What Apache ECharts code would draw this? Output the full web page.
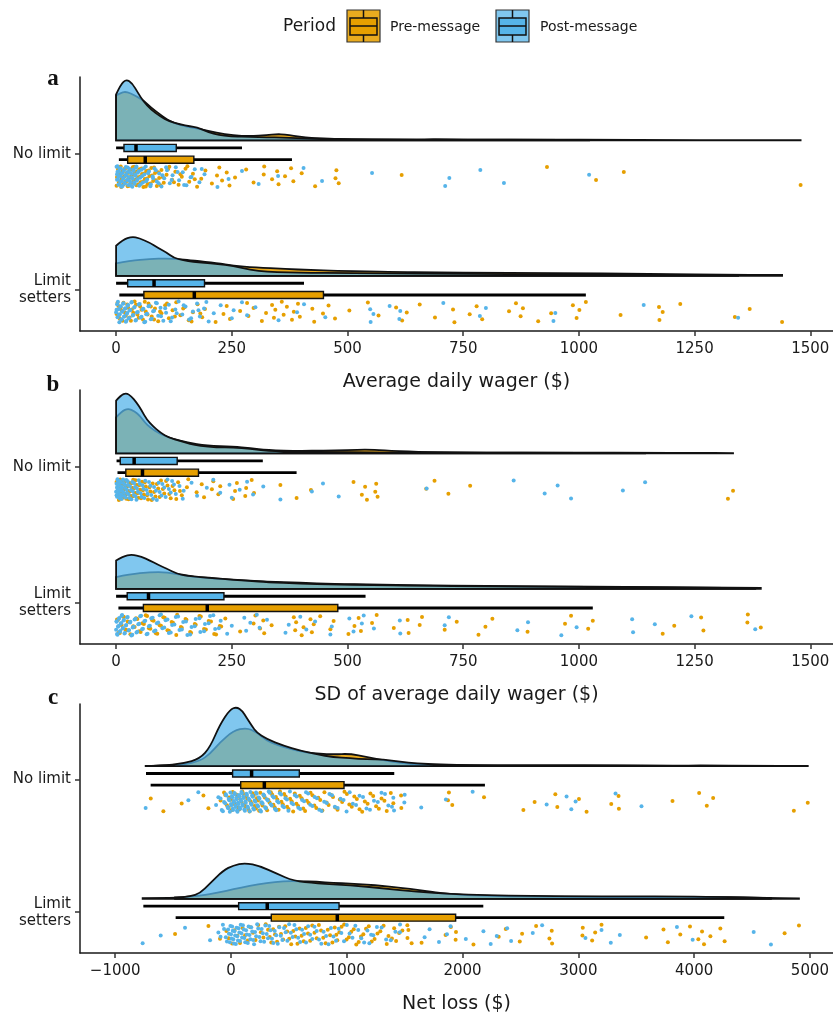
<!DOCTYPE html>
<html>
<head>
<meta charset="utf-8">
<script src="https://cdn.jsdelivr.net/npm/echarts@6/dist/echarts.min.js"></script>
<style>
html, body { margin: 0; padding: 0; background: #fff; }
#main { width: 833px; height: 1015px; }
</style>
</head>
<body>
<div id="main"></div>
<script>
// groups and axes
var groups = ['No limit', 'Limit setters'];
var panelLetters = ['a', 'b', 'c'];
var axisTitles = ['Average daily wager ($)', 'SD of average daily wager ($)', 'Net loss ($)'];
var ticksWager = [0, 250, 500, 750, 1000, 1250, 1500];
var ticksLoss = [-1000, 0, 1000, 2000, 3000, 4000, 5000];

// boxplots: [lower whisker, q1, median, q3, upper whisker]
var boxA_nl_pre = [6, 25, 63, 168, 380];
var boxA_nl_post = [0, 17, 43, 130, 272];
var boxA_ls_pre = [7, 60, 169, 448, 1015];
var boxA_ls_post = [0, 25, 82, 191, 406];
var boxB_nl_pre = [3, 21, 57, 178, 390];
var boxB_nl_post = [1, 9, 39, 132, 317];
var boxB_ls_pre = [5, 59, 197, 479, 1030];
var boxB_ls_post = [0, 24, 70, 233, 539];
var boxC_nl_pre = [-694, 84, 288, 976, 2193];
var boxC_nl_post = [-734, 14, 178, 590, 1410];
var boxC_ls_pre = [-478, 348, 918, 1940, 4260];
var boxC_ls_post = [-757, 66, 313, 933, 2179];

// density curves: [x, density height]
var densA_nl_pre = [[0,45],[12,48],[23,48.6],[40,45],[59,40],[75,33],[95,26],[110,21],[124,17.6],[153,13.6],[181,11.3],[217,7.6],[253,5],[290,4.3],[326,5.3],[347,6.3],[365,6],[383,4.6],[410,3],[434,2],[506,1],[600,0.8],[700,1],[800,0.7],[950,0.8],[1050,0.6],[1200,0.3],[1350,0.3],[1479,0.3]];
var densA_nl_post = [[0,46],[10,56],[22,61],[35,57],[48,47],[59,39],[75,31],[95,24],[115,19],[138,16],[160,14],[175,13],[190,10],[210,6.6],[235,4.5],[253,4],[290,3.5],[326,3.3],[360,2.8],[420,2],[470,1.5],[550,1.2],[650,0.9],[720,1],[800,0.8],[900,0.6],[1022,0.3]];
var densA_ls_pre = [[0,12.4],[30,15],[73,16.7],[110,17.4],[140,16.5],[167,15],[218,12.7],[253,10],[300,8.4],[367,6.7],[420,5.8],[476,5],[550,4.4],[588,4],[700,3.5],[800,3],[900,2.8],[1000,2.6],[1100,2],[1200,1.6],[1300,1.2],[1439,0.8]];
var densA_ls_post = [[0,30],[15,36],[34,39],[50,37.5],[73,33],[90,28],[110,23],[124,18],[145,15.5],[167,14],[190,13],[218,11.7],[253,10],[290,6],[326,4],[370,3.5],[420,3],[480,2.8],[550,2.5],[620,2.2],[700,2],[800,1.8],[900,1.6],[1000,1.3],[1150,1],[1250,0.8],[1344,0.5]];
var densB_nl_pre = [[0,36],[12,42],[26,45],[40,42],[51,37.7],[62,31],[73,26],[95,19.4],[124,14.4],[153,11],[196,7.7],[253,6.7],[290,5.3],[326,3.3],[398,2.4],[448,3],[500,3.3],[542,4],[575,3],[650,1.5],[750,1],[850,0.8],[1000,0.7],[1150,0.7],[1250,0.6],[1333,0.4]];
var densB_nl_post = [[0,52.7],[10,58],[22,60.4],[33,57],[44,51],[55,43],[66,34],[80,27],[95,21],[115,15.5],[138,12.7],[160,9.5],[181,7.7],[217,6],[253,6],[290,4.7],[326,2.4],[398,1.5],[470,1.5],[542,1],[650,0.8],[800,0.8],[950,0.7],[1050,0.6],[1143,0.4]];
var densB_ls_pre = [[0,11.7],[30,14.5],[73,16.7],[110,16.7],[153,12.7],[217,10],[270,8.6],[326,7.3],[398,6],[470,5],[560,4.3],[650,3.5],[800,2.8],[950,2.3],[1100,2],[1250,1.5],[1393,1]];
var densB_ls_post = [[0,28.3],[15,32.5],[34,34.3],[55,32],[73,28.3],[90,24],[110,20],[131,15],[155,13],[181,11.7],[220,10.3],[253,9],[290,7.8],[326,6.7],[398,5],[470,4.3],[550,3.8],[650,3],[800,2.5],[950,2],[1100,1.6],[1250,1.2],[1381,0.8]];
var densC_nl_pre = [[-693,0.3],[-550,0.8],[-412,1.7],[-268,5.3],[-181,12.7],[-95,24.3],[20,36],[135,39.3],[222,34.3],[308,26],[394,21.7],[510,17.7],[654,13.7],[769,12.7],[884,12],[1028,12.7],[1172,9.3],[1316,6],[1460,3.3],[1633,1.5],[1900,1],[2200,0.8],[2600,0.8],[3000,0.9],[3300,0.9],[3800,0.6],[4100,0.8],[4500,0.4],[4981,0.3]];
var densC_nl_post = [[-737,0.3],[-600,0.6],[-412,2.7],[-268,7.7],[-181,19.3],[-95,42.7],[-9,57.7],[49,60.3],[100,56],[135,49.3],[180,41],[222,34.3],[308,27.7],[452,21],[596,16],[740,12],[884,9.3],[1028,8],[1172,7],[1316,7],[1460,4.5],[1604,3],[1800,1.5],[2100,1],[2500,0.8],[2900,1],[3200,0.7],[3545,0.3]];
var densC_ls_pre = [[-483,1.5],[-350,2.2],[-268,3.3],[-100,6.5],[20,9.7],[160,13],[308,16.3],[452,18],[596,18],[740,17.4],[884,16.3],[1028,15.5],[1172,14.7],[1316,13],[1460,11.3],[1633,9],[1747,6.5],[2034,3.8],[2322,2.7],[2700,2.2],[3100,2],[3500,1.8],[3900,2],[4200,1.8],[4600,1],[4905,0.6]];
var densC_ls_post = [[-763,0.8],[-600,1],[-470,1.2],[-350,2.5],[-268,5.7],[-181,15.7],[-66,29],[20,34],[121,36.7],[251,33.3],[395,25.7],[539,18.3],[740,15.7],[1028,14],[1316,10.7],[1604,7.3],[1900,5],[2200,3.8],[2600,3],[3000,2.6],[3400,2.5],[3800,2.6],[4200,2],[4663,0.8]];

// raw observations
var ptsA_nl_pre = [1,3,5,6,8,10,12,14,15,17,19,21,23,25,27,29,31,33,36,38,41,44,47,50,53,56,59,62,65,68,72,76,80,84,88,93,98,103,109,115,121,128,135,142,150,158,166,175,184,193,207,218,223,229,239,245,257,281,297,319,320,337,348,351,365,378,383,401,430,474,476,481,617,931,1037,1097,1479,
    2,4,7,9,11,13,16,18,20,22,24,26,28,30,32,35,37,39,42,45,48,52,55,58,61,64,67,70,74,78,82,86,91,96,101,112,125,139,154,170];
var ptsA_nl_post = [2,3,4,6,7,9,10,12,13,14,16,17,18,20,21,23,24,26,27,29,31,33,35,36,38,40,42,43,45,47,50,52,55,58,61,64,67,71,75,79,83,88,93,98,104,110,116,122,129,136,144,152,161,170,180,191,219,243,272,308,350,405,445,553,711,720,787,838,1022,
    1,2,3,5,5,8,9,11,12,15,16,19,22,25,28,30,32,34,37,39,41,44,46,49,53,56,60,65,69,74,80,86,92,100,108,120,133,147,163,185];
var ptsA_ls_pre = [3,6,10,14,19,24,29,34,40,46,52,58,64,70,77,84,91,98,106,114,122,130,139,148,157,166,176,186,192,215,232,239,246,268,283,286,297,315,324,337,341,344,358,362,369,380,384,393,397,424,428,447,459,473,504,544,567,605,618,628,656,689,728,731,764,779,791,849,864,874,879,912,940,987,995,1001,1015,1090,1173,1174,1181,1219,1337,1369,1439,
    1,5,8,12,16,21,26,32,37,43,49,55,62,68,75,82,95,110,127,145,163,182];
var ptsA_ls_post = [0,2,3,5,7,8,10,12,14,16,18,20,22,24,26,28,31,34,37,40,43,47,51,55,59,63,67,72,77,82,86,91,96,102,108,114,121,128,135,143,150,158,166,175,181,190,200,211,226,250,254,272,283,301,351,391,406,452,549,550,556,591,612,614,707,786,799,945,949,1140,1344,
    1,4,6,9,11,13,15,17,19,21,23,25,27,29,33,36,39,42,45,49,53,57,61,65,70,75,80,88,97,106,118,131,146,162,178,195];
var ptsB_nl_pre = [1,3,4,6,8,10,12,14,16,18,20,22,25,28,31,34,37,40,44,48,52,56,60,64,69,74,79,85,91,97,104,111,118,126,134,142,153,156,174,185,190,207,210,221,225,253,257,261,279,281,293,298,355,390,421,513,531,538,542,560,562,565,670,688,718,765,1322,1333,
    2,5,7,9,11,13,15,17,19,21,24,27,30,33,36,39,42,46,50,54,58,62,67,72,77,82,88,94,101,108,115,122,130,138];
var ptsB_nl_post = [0,1,2,3,4,5,6,8,9,10,12,13,15,17,19,21,23,25,27,30,33,36,39,42,45,49,53,57,61,66,71,76,82,88,94,100,107,114,121,129,137,144,146,163,175,196,210,225,245,250,267,283,296,318,355,423,447,481,671,859,926,954,983,1095,1143,
    1,2,3,4,5,6,7,8,10,11,12,14,16,18,20,22,24,26,29,32,35,38,41,44,47,51,55,59,63,68,74,80,86,92,98,104,111,118,125];
var ptsB_ls_pre = [4,8,12,17,22,28,34,40,46,53,60,67,74,81,89,97,105,114,123,132,142,152,162,172,183,194,205,216,227,236,268,297,301,311,318,320,336,384,387,389,401,405,420,423,427,441,463,470,502,515,524,529,553,563,600,630,632,656,661,710,736,783,798,813,889,970,983,1020,1030,1181,1206,1264,1269,1364,1365,1393,
    2,6,10,15,20,25,31,37,43,50,57,64,71,78,86,94,102,111,120,130,140,150,160,170,180,190,200,212,224];
var ptsB_ls_post = [0,1,3,4,6,8,10,12,14,16,18,21,24,27,30,33,36,40,44,48,52,56,61,66,71,76,82,88,94,100,107,114,121,129,137,145,154,163,172,182,192,203,214,226,240,250,277,281,290,304,310,326,366,373,398,411,430,463,466,504,513,531,535,557,613,614,710,719,867,890,962,995,1115,1117,1164,1243,1381,
    1,2,5,7,9,11,13,15,17,19,22,25,28,31,35,38,42,46,50,54,58,63,68,73,79,85,91,97,104,111,118,126,134,142,151,160,170,180,190,200,210,222];
var ptsC_nl_pre = [-693,-584,-426,-238,-195,-90,-60,-35,-15,5,25,45,62,80,98,115,132,150,168,186,205,224,243,262,282,302,323,344,366,388,411,435,459,484,510,537,565,594,624,655,687,720,754,789,825,862,900,940,980,1022,1065,1110,1156,1204,1253,1300,1345,1402,1469,1471,1874,1882,1911,2185,2525,2622,2801,2818,3005,3071,3284,3347,3350,3813,4043,4109,4164,4861,4981,
    -50,-20,0,15,35,55,70,90,105,125,140,160,178,196,215,234,253,272,292,312,333,355,377,400,423,447,472,497,524,551,580,610,640,671,704,737,771,807,843,881,920,960,1001,1043,1087,1133,1180,1228,1277,1325,1380];
var ptsC_nl_post = [-737,-368,-282,-129,-109,-80,-60,-45,-30,-20,-10,0,8,15,22,30,38,45,52,60,68,75,83,90,98,106,115,124,133,142,152,162,172,182,193,204,216,228,240,253,266,280,295,310,326,343,360,380,400,422,445,470,496,523,552,582,614,648,684,722,762,805,850,897,946,998,1052,1110,1170,1235,1300,1359,1402,1408,1497,1500,1643,1856,2087,2726,2898,2939,2976,3321,3545,
    -90,-70,-50,-40,-25,-15,-5,4,12,18,26,34,41,49,56,64,72,79,87,94,102,110,120,128,138,147,157,167,177,188,198,210,222,234,246,259,273,287,302,318,334,351,370,390,411,433,458,483,509,537,567,598,631,666,703,742,783,827,873,921,972,1025,1080,1140,1200,1268,1330,1390];
var ptsC_ls_pre = [-483,-195,-95,-40,10,55,100,145,190,235,280,320,348,380,415,450,485,520,556,592,628,665,702,740,778,817,856,896,918,936,977,1018,1060,1103,1143,1190,1240,1290,1345,1360,1409,1426,1452,1523,1524,1532,1646,1853,1899,1940,1943,2094,2312,2373,2494,2514,2635,2750,2770,2773,3035,3038,3119,3145,3200,3585,3735,3773,3880,3964,4036,4068,4085,4140,4226,4263,4781,4905,
    -20,30,78,122,168,212,258,300,335,364,398,432,468,503,538,574,610,646,684,721,759,797,836,876,910,955,998,1039,1082,1123,1166,1215,1265,1318,1390,1480,1560];
var ptsC_ls_post = [-763,-607,-397,-181,-109,-70,-45,-25,-10,0,10,20,30,42,54,66,78,90,103,116,130,145,160,175,191,208,226,245,265,286,308,330,354,378,404,430,458,487,517,548,580,614,648,684,721,760,800,842,885,930,976,1024,1074,1125,1178,1195,1229,1301,1380,1459,1460,1672,1715,1796,1865,1896,2028,2180,2243,2295,2385,2419,2606,2687,3061,3200,3280,3358,3851,3987,4514,4663,
    -90,-60,-35,-18,-5,5,15,25,36,48,60,72,84,96,110,123,137,152,167,183,199,217,235,255,275,297,319,342,366,391,417,444,472,502,532,564,597,631,666,702,740,780,821,863,907,953,1000,1049,1099,1150,1210,1260,1340,1420];

var ORANGE = '#E69F00';
var BLUE = '#56B4E9';
var FONT = '"DejaVu Sans"';
var TXT = '#1a1a1a';

// layout in y units (one unit = distance between the two groups)
var DENS_BASE = -0.10;
var DENS_SCALE = 1 / 135;
var BOX_OFF = { pre: 0.042, post: -0.045 };
var BOX_HALF = 0.026;
var PT_TOP = 0.09, PT_SPAN = 0.155;

var panels = [
    { top: 77,  xmin: -78,   xmax: 1549, ticks: ticksWager,
      dens: { pre: [densA_nl_pre, densA_ls_pre], post: [densA_nl_post, densA_ls_post] },
      box: { pre: [boxA_nl_pre, boxA_ls_pre], post: [boxA_nl_post, boxA_ls_post] },
      pts: { pre: [ptsA_nl_pre, ptsA_ls_pre], post: [ptsA_nl_post, ptsA_ls_post] } },
    { top: 390, xmin: -78,   xmax: 1549, ticks: ticksWager,
      dens: { pre: [densB_nl_pre, densB_ls_pre], post: [densB_nl_post, densB_ls_post] },
      box: { pre: [boxB_nl_pre, boxB_ls_pre], post: [boxB_nl_post, boxB_ls_post] },
      pts: { pre: [ptsB_nl_pre, ptsB_ls_pre], post: [ptsB_nl_post, ptsB_ls_post] } },
    { top: 704, xmin: -1304, xmax: 5199, ticks: ticksLoss,
      dens: { pre: [densC_nl_pre, densC_ls_pre], post: [densC_nl_post, densC_ls_post] },
      box: { pre: [boxC_nl_pre, boxC_ls_pre], post: [boxC_nl_post, boxC_ls_post] },
      pts: { pre: [ptsC_nl_pre, ptsC_ls_pre], post: [ptsC_nl_post, ptsC_ls_post] } }
];

var fills = {
    pre: 'rgba(230,159,0,0.88)',
    post: 'rgba(86,180,233,0.75)'
};

// smooth outline through midpoints, sharp corners on the baseline
function curvePath(base0, pts, baseN) {
    var d = 'M' + base0[0] + ',' + base0[1] + 'L' + pts[0][0] + ',' + pts[0][1];
    for (var i = 1; i < pts.length - 1; i++) {
        var mx = (pts[i][0] + pts[i + 1][0]) / 2, my = (pts[i][1] + pts[i + 1][1]) / 2;
        d += 'Q' + pts[i][0] + ',' + pts[i][1] + ' ' + mx + ',' + my;
    }
    var last = pts[pts.length - 1];
    d += 'L' + last[0] + ',' + last[1] + 'L' + baseN[0] + ',' + baseN[1] + 'Z';
    return d;
}

//half violin
function densitySeries(k, period) {
    var curves = panels[k].dens[period];
    return {
        type: 'custom', xAxisIndex: k, yAxisIndex: k, z: 1, silent: true,
        encode: { x: 0, y: 1 },
        data: [[curves[0][0][0], 1], [curves[1][0][0], 2]],
        renderItem: function (params, api) {
            var c = curves[params.dataIndex];
            var yb = params.dataIndex + 1 + DENS_BASE;
            var pts = [];
            for (var i = 0; i < c.length; i++) {
                pts.push(api.coord([c[i][0], yb - c[i][1] * DENS_SCALE]));
            }
            return {
                type: 'path',
                shape: { pathData: curvePath(api.coord([c[0][0], yb]), pts, api.coord([c[c.length - 1][0], yb])) },
                style: { fill: fills[period], stroke: '#111', lineWidth: 1.8 }
            };
        }
    };
}

function boxSeries(k, period) {
    var boxes = panels[k].box[period];
    var col = period == 'pre' ? ORANGE : BLUE;
    return {
        type: 'custom', xAxisIndex: k, yAxisIndex: k, z: 3, silent: true,
        encode: { x: 0, y: 1 },
        data: [[boxes[0][2], 1], [boxes[1][2], 2]],
        renderItem: function (params, api) {
            var b = boxes[params.dataIndex];
            var yc = params.dataIndex + 1 + BOX_OFF[period];
            var w0 = api.coord([b[0], yc]), w1 = api.coord([b[4], yc]);
            var lt = api.coord([b[1], yc - BOX_HALF]), rb = api.coord([b[3], yc + BOX_HALF]);
            var m = api.coord([b[2], yc]);
            var hh = (rb[1] - lt[1]) / 2;
            return {
                type: 'group',
                children: [
                    { type: 'line', shape: { x1: w0[0], y1: w0[1], x2: w1[0], y2: w1[1] },
                      style: { stroke: '#000', lineWidth: 2.8 } },
                    { type: 'rect', shape: { x: lt[0], y: lt[1], width: rb[0] - lt[0], height: rb[1] - lt[1] },
                      style: { fill: col, stroke: '#111', lineWidth: 1.4 } },
                    { type: 'line', shape: { x1: m[0], y1: m[1] - hh, x2: m[0], y2: m[1] + hh },
                      style: { stroke: '#000', lineWidth: 3.5 } }
                ]
            };
        }
    };
}

function jitter(i, seed) {
    var v = (i + 1) * 0.618034 + seed;
    return v - Math.floor(v);
}

function pointSeries(k, period) {
    var sets = panels[k].pts[period];
    var data = [];
    for (var g = 0; g < sets.length; g++) {
        for (var i = 0; i < sets[g].length; i++) {
            var seed = (period == 'pre' ? 0.31 : 0.77) + g * 0.13 + k * 0.21;
            data.push([sets[g][i], g + 1 + PT_TOP + PT_SPAN * jitter(i, seed)]);
        }
    }
    return {
        type: 'scatter', xAxisIndex: k, yAxisIndex: k, z: 2, silent: true,
        symbolSize: 4, data: data,
        itemStyle: { color: period == 'pre' ? ORANGE : BLUE, opacity: 1 }
    };
}

var grids = [], xAxes = [], yAxes = [], series = [], graphics = [];
for (var k = 0; k < panels.length; k++) {
    var p = panels[k];
    grids.push({ left: 80, right: 0, top: p.top, height: 254 });
    xAxes.push({
        type: 'value', gridIndex: k, min: p.xmin, max: p.xmax,
        name: axisTitles[k], nameLocation: 'middle', nameGap: 42,
        nameTextStyle: { fontFamily: FONT, fontSize: 19, color: TXT },
        axisLine: { onZero: false, lineStyle: { color: '#1a1a1a', width: 1.5 } },
        axisTick: { length: 5, lineStyle: { color: '#333', width: 1.5 }, customValues: p.ticks },
        axisLabel: {
            customValues: p.ticks, margin: 11, fontFamily: FONT, fontSize: 15, color: TXT,
            formatter: function (v) { return v < 0 ? '\u2212' + Math.abs(v) : String(v); }
        },
        splitLine: { show: false }
    });
    yAxes.push({
        type: 'value', gridIndex: k, inverse: true, min: 0.431, max: 2.308,
        axisLine: { onZero: false, lineStyle: { color: '#1a1a1a', width: 1.5 } },
        axisTick: { length: 5, lineStyle: { color: '#333', width: 1.5 }, customValues: [1, 2] },
        axisLabel: {
            customValues: [1, 2], margin: 9, fontFamily: FONT, fontSize: 15, color: TXT,
            lineHeight: 17, align: 'right',
            formatter: function (v) { return v == 1 ? groups[0] : groups[1].replace(' ', '\n'); }
        },
        splitLine: { show: false }
    });
    series.push(densitySeries(k, 'pre'), densitySeries(k, 'post'));
    series.push(pointSeries(k, 'pre'), pointSeries(k, 'post'));
    series.push(boxSeries(k, 'pre'), boxSeries(k, 'post'));
}

var letterY = [79, 385, 698];
for (var k = 0; k < 3; k++) {
    graphics.push({
        type: 'text', x: 53, y: letterY[k],
        style: { text: panelLetters[k], font: 'bold 23px "Liberation Serif"', fill: '#111',
                 textAlign: 'center', textVerticalAlign: 'middle' }
    });
}

// legend
function legendKey(x, light, solid) {
    return {
        type: 'group', x: x, y: 10,
        children: [
            { type: 'rect', shape: { x: 0, y: 0, width: 33, height: 32 }, style: { fill: light, stroke: '#333', lineWidth: 1.2 } },
            { type: 'line', shape: { x1: 16.5, y1: 0, x2: 16.5, y2: 8 }, style: { stroke: '#111', lineWidth: 1.5 } },
            { type: 'line', shape: { x1: 16.5, y1: 25, x2: 16.5, y2: 32 }, style: { stroke: '#111', lineWidth: 1.5 } },
            { type: 'rect', shape: { x: 3, y: 8, width: 27, height: 17 }, style: { fill: solid, stroke: '#111', lineWidth: 1.5 } },
            { type: 'line', shape: { x1: 3, y1: 16, x2: 30, y2: 16 }, style: { stroke: '#111', lineWidth: 1.5 } }
        ]
    };
}
graphics.push({ type: 'text', x: 283, y: 27, style: { text: 'Period', font: '17px ' + FONT, fill: TXT, textVerticalAlign: 'middle' } });
graphics.push(legendKey(347, fills.pre, ORANGE));
graphics.push({ type: 'text', x: 390, y: 27, style: { text: 'Pre-message', font: '14px ' + FONT, fill: TXT, textVerticalAlign: 'middle' } });
graphics.push(legendKey(496, fills.post, BLUE));
graphics.push({ type: 'text', x: 540, y: 27, style: { text: 'Post-message', font: '14px ' + FONT, fill: TXT, textVerticalAlign: 'middle' } });

var myChart = echarts.init(document.getElementById('main'));
myChart.setOption({
    animation: false,
    backgroundColor: '#fff',
    grid: grids,
    xAxis: xAxes,
    yAxis: yAxes,
    series: series,
    graphic: graphics
});
</script>
</body>
</html>
